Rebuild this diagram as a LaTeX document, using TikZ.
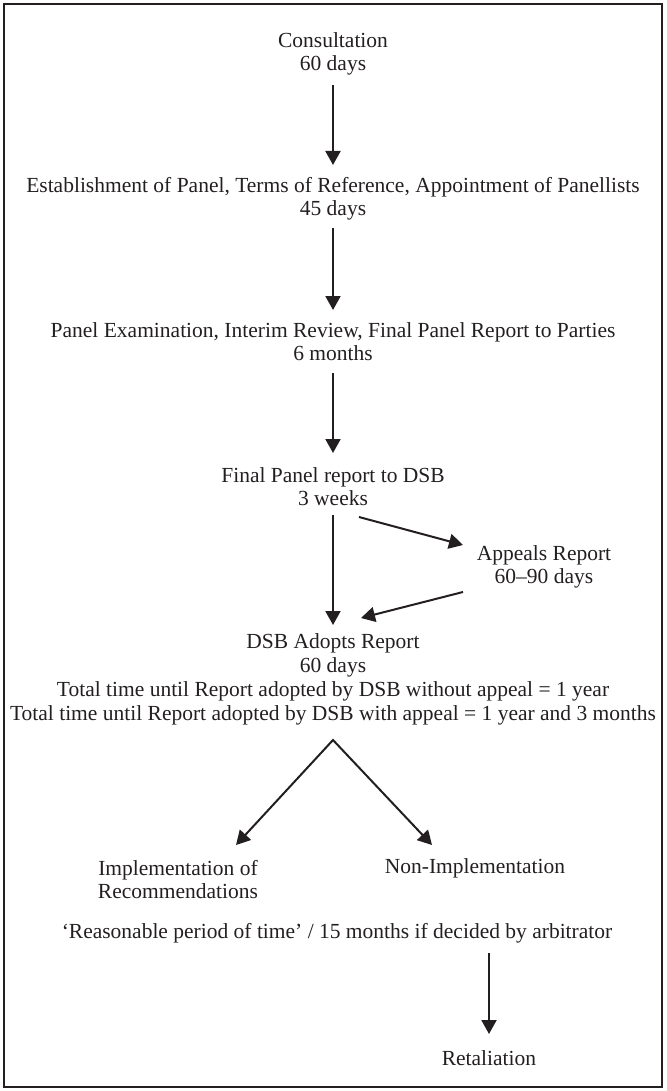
\documentclass[tikz,border=0pt]{standalone}
\usepackage{fontspec}
\setmainfont{Liberation Serif}
\usetikzlibrary{arrows.meta}
\definecolor{ink}{HTML}{231F20}
\begin{document}
\begin{tikzpicture}[x=1pt,y=-1pt,
  txt/.style={inner sep=0pt,align=center,text=ink,font=\fontsize{21.5}{23}\selectfont},
  tip/.tip={Triangle[length=14pt,width=15pt]},
  arr/.style={draw=ink,line width=2pt,-tip},
  arrboth/.style={draw=ink,line width=2pt,line join=miter,tip-tip}]
\useasboundingbox (0,0) rectangle (666,1091);
\draw[ink,line width=2pt] (4,4) rectangle (662,1087);

\node[txt] (cons) at (333,53.5) {Consultation\\60 days};
\node[txt] (estab) at (333,198.5) {Establishment of Panel, Terms of Reference, Appointment of Panellists\\45 days};
\node[txt] (exam) at (333,341.5) {Panel Examination, Interim Review, Final Panel Report to Parties\\6 months};
\node[txt] (final) at (333,486.5) {Final Panel report to DSB\\3 weeks};
\node[txt] (appeals) at (544,566.5) {Appeals Report\\60--90 days};
\node[txt,font=\fontsize{21.5}{24}\selectfont] (adopt) at (333,679) {DSB Adopts Report\\60 days\\Total time until Report adopted by DSB without appeal = 1 year\\Total time until Report adopted by DSB with appeal = 1 year and 3 months};
\node[txt] (impl) at (178,880) {Implementation of\\Recommendations};
\node[txt] (nonimpl) at (475,868) {Non-Implementation};
\node[txt] (reason) at (337,933) {`Reasonable period of time' / 15 months if decided by arbitrator};
\node[txt] (retal) at (489,1058) {Retaliation};

\draw[arr] ([shift={(0,31.5)}]cons.center) -- ([shift={(0,-33.5)}]estab.center);
\draw[arr] ([shift={(0,29.5)}]estab.center) -- ([shift={(0,-31.5)}]exam.center);
\draw[arr] ([shift={(0,31.5)}]exam.center) -- ([shift={(0,-33.5)}]final.center);
\draw[arr] ([shift={(0,28.5)}]final.center) -- ([shift={(0,-54)}]adopt.center);
\draw[arr] ([shift={(26,30.5)}]final.center) -- ([shift={(-81,-21.5)}]appeals.center);
\draw[arr] ([shift={(-81,25.5)}]appeals.center) -- ([shift={(28,-61)}]adopt.center);
\draw[arrboth] ([shift={(58,-35)}]impl.center) -- ([shift={(0,61)}]adopt.center) -- ([shift={(-43,-23)}]nonimpl.center);
\draw[arr] ([shift={(152,20)}]reason.center) -- ([shift={(0,-24)}]retal.center);
\end{tikzpicture}
\end{document}
